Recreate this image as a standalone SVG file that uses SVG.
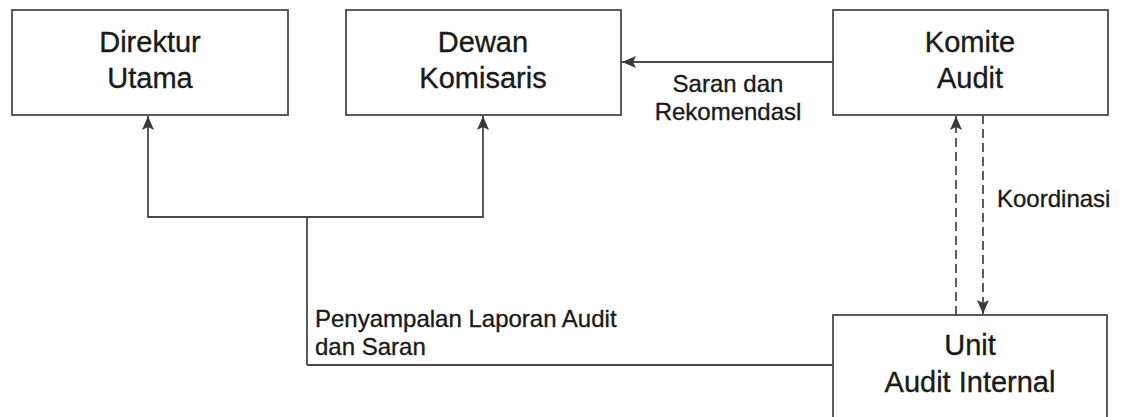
<svg xmlns="http://www.w3.org/2000/svg" width="1128" height="417" viewBox="0 0 1128 417">
<defs>
<style>
.box{fill:#fff;stroke:#4a4a4a;stroke-width:1.8}
.t{font-family:"Liberation Sans",Arial,sans-serif;fill:#1a1a1a;stroke:#1a1a1a;stroke-width:0.35;text-anchor:middle}
.big{font-size:29px}
.lbl{font-size:24px}
.ln{fill:none;stroke:#4a4a4a;stroke-width:1.8}
.dash{stroke-dasharray:9 5}
</style>
<marker id="ah" viewBox="0 0 14 12" refX="14" refY="6" markerWidth="14" markerHeight="12" markerUnits="userSpaceOnUse" orient="auto">
<path d="M0,0 L14,6 L0,12 L3,6 z" fill="#3a3a3a"/>
</marker>
</defs>
<rect width="1128" height="417" fill="#fff"/>
<g id="connectors">
<path class="ln" d="M833,62 H622" marker-end="url(#ah)"/>
<path class="ln" d="M307,365 V217 H148 V116" marker-end="url(#ah)"/>
<path class="ln" d="M307,217 H483 V116" marker-end="url(#ah)"/>
<path class="ln" d="M307,365 H833"/>
<path class="ln dash" d="M956,315 V116" marker-end="url(#ah)"/>
<path class="ln dash" d="M983,115 V314" marker-end="url(#ah)"/>
<text class="t lbl" x="728" y="92">Saran dan</text>
<text class="t lbl" x="728" y="120">Rekomendasl</text>
<text class="t lbl" x="997" y="207" style="text-anchor:start">Koordinasi</text>
<text class="t lbl" x="315" y="327" style="text-anchor:start">Penyampalan Laporan Audit</text>
<text class="t lbl" x="315" y="355" style="text-anchor:start">dan Saran</text>
</g>
<g id="direktur">
<rect class="box" x="12" y="10" width="276" height="105"/>
<text class="t big" x="150" y="52">Direktur</text>
<text class="t big" x="150" y="88">Utama</text>
</g>
<g id="dewan">
<rect class="box" x="346" y="10" width="275" height="105"/>
<text class="t big" x="483" y="52">Dewan</text>
<text class="t big" x="483" y="88">Komisaris</text>
</g>
<g id="komite">
<rect class="box" x="833" y="10" width="275" height="105"/>
<text class="t big" x="970" y="52">Komite</text>
<text class="t big" x="970" y="88">Audit</text>
</g>
<g id="unit">
<rect class="box" x="833" y="315" width="274" height="110"/>
<text class="t big" x="970" y="355">Unit</text>
<text class="t big" x="970" y="392">Audit Internal</text>
</g>
</svg>
